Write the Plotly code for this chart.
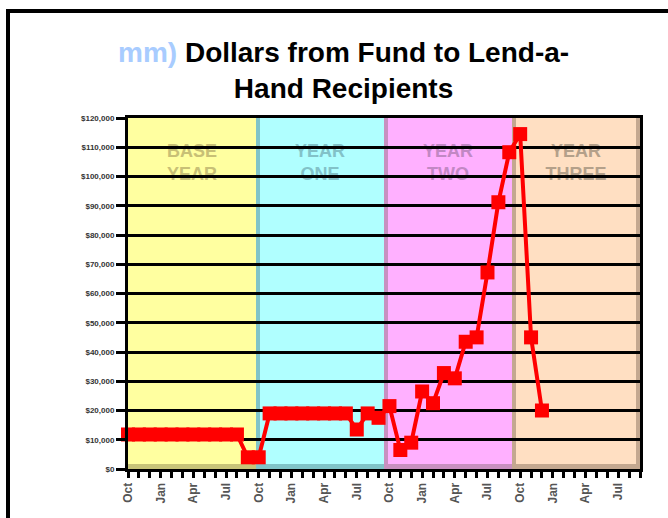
import plotly.graph_objects as go

# Monthly disbursements, fiscal months counted from October of the base year
month_index = [0, 1, 2, 3, 4, 5, 6, 7, 8, 9, 10, 11, 12, 13, 14, 15, 16, 17, 18, 19,
               20, 21, 22, 23, 24, 25, 26, 27, 28, 29, 30, 31, 32, 33, 34, 35, 36, 37, 38]
dollars = [11800, 11800, 11800, 11800, 11800, 11800, 11800, 11800, 11800, 11800, 11800,
           4000, 4000,
           19000, 19000, 19000, 19000, 19000, 19000, 19000, 19000,
           13500, 19000, 17500, 21500, 6500, 9000, 26500, 22500, 32800, 31000,
           43500, 45000, 67200, 91200, 108300, 114500, 45000, 20000]

# Quarter labels on the month axis
all_months = list(range(48))
quarter_names = ["Oct", "Jan", "Apr", "Jul"]
quarter_ticks = [0, 3, 6, 9, 12, 15, 18, 21, 24, 27, 30, 33, 36, 39, 42, 45]

# Period bands behind the data
period_names = ["BASE<br>YEAR", "YEAR<br>ONE", "YEAR<br>TWO", "YEAR<br>THREE"]
period_fill = ["#ffffa0", "#b0ffff", "#ffb0ff", "#ffdfc2"]
period_edge = ["#c8c478", "#80c4c8", "#c890c0", "#c4a890"]
period_text = ["#c8c076", "#82c2c8", "#c288c4", "#b4a08a"]

FONT = "Liberation Sans, Arial, sans-serif"
W, H = 668, 518
L, R, T, B = 128, 28, 118, 49
PW, PH = W - L - R, H - T - B


def px_x(px):
    return (px - L) / PW


def px_y(py):
    return (H - B - py) / PH


tick_text = []
for m in all_months:
    if m in quarter_ticks:
        tick_text.append(quarter_names[quarter_ticks.index(m) % 4])
    else:
        tick_text.append("")

shapes = []
ex = 4 / PW
ey = 5 / PH
for k in range(4):
    shapes.append(dict(
        type="rect", xref="x domain", yref="y domain",
        x0=k / 4, x1=(k + 1) / 4, y0=0, y1=1,
        fillcolor=period_fill[k], line=dict(width=0), layer="below",
        label=dict(text="<b>" + period_names[k] + "</b>", textposition="top center",
                   padding=21,
                   font=dict(family=FONT, size=18, color=period_text[k])),
    ))
    shapes.append(dict(
        type="rect", xref="x domain", yref="y domain",
        x0=k / 4, x1=(k + 1) / 4, y0=0, y1=ey,
        fillcolor=period_edge[k], line=dict(width=0), layer="below",
    ))
    if k > 0:
        shapes.append(dict(
            type="rect", xref="x domain", yref="y domain",
            x0=k / 4, x1=k / 4 + ex, y0=0, y1=1,
            fillcolor=period_edge[k], line=dict(width=0), layer="below",
        ))
shapes.append(dict(
    type="rect", xref="x domain", yref="y domain",
    x0=1 - ex, x1=1, y0=0, y1=1,
    fillcolor=period_edge[3], line=dict(width=0), layer="below",
))

# outer chart frame running off the page to the right and bottom
fx, fy = px_x(8), px_y(11)
shapes.append(dict(
    type="path", xref="paper", yref="paper",
    path=f"M {fx},{px_y(530)} L {fx},{fy} L {px_x(690)},{fy}",
    line=dict(color="black", width=4), layer="above",
))

fig = go.Figure()
fig.add_trace(go.Scatter(
    x=month_index, y=dollars, mode="lines+markers",
    line=dict(color="#ff0000", width=4),
    marker=dict(symbol="square", size=14, color="#ff0000"),
    cliponaxis=False, showlegend=False,
))

fig.add_annotation(
    xref="paper", yref="paper", x=px_x(343), y=px_y(70),
    xanchor="center", yanchor="middle", showarrow=False,
    text="<b><span style='color:#a8ccff'>mm)</span> Dollars from Fund to Lend-a-<br>Hand Recipients</b>",
    font=dict(family=FONT, size=28, color="black"),
)

fig.update_layout(
    width=W, height=H,
    margin=dict(l=L, r=R, t=T, b=B),
    paper_bgcolor="white", plot_bgcolor="rgba(0,0,0,0)",
    shapes=shapes,
    font=dict(family=FONT),
    xaxis=dict(
        range=[0, 47], tickmode="array", tickvals=all_months, ticktext=tick_text,
        tickangle=-90, ticks="outside", ticklen=6, tickwidth=3, tickcolor="black",
        tickfont=dict(family=FONT, size=12, color="#555", weight="bold"),
        showgrid=False, zeroline=False,
        showline=True, linewidth=3, linecolor="black", mirror=True,
    ),
    yaxis=dict(
        range=[0, 120000], dtick=10000, tickformat="$,.0f",
        ticks="outside", ticklen=9, tickwidth=3, tickcolor="black",
        tickfont=dict(family=FONT, size=8, color="#333", weight="bold"),
        showgrid=True, gridcolor="black", gridwidth=3, zeroline=False,
        showline=True, linewidth=3, linecolor="black", mirror=True,
    ),
)

fig.write_html("out.html")
